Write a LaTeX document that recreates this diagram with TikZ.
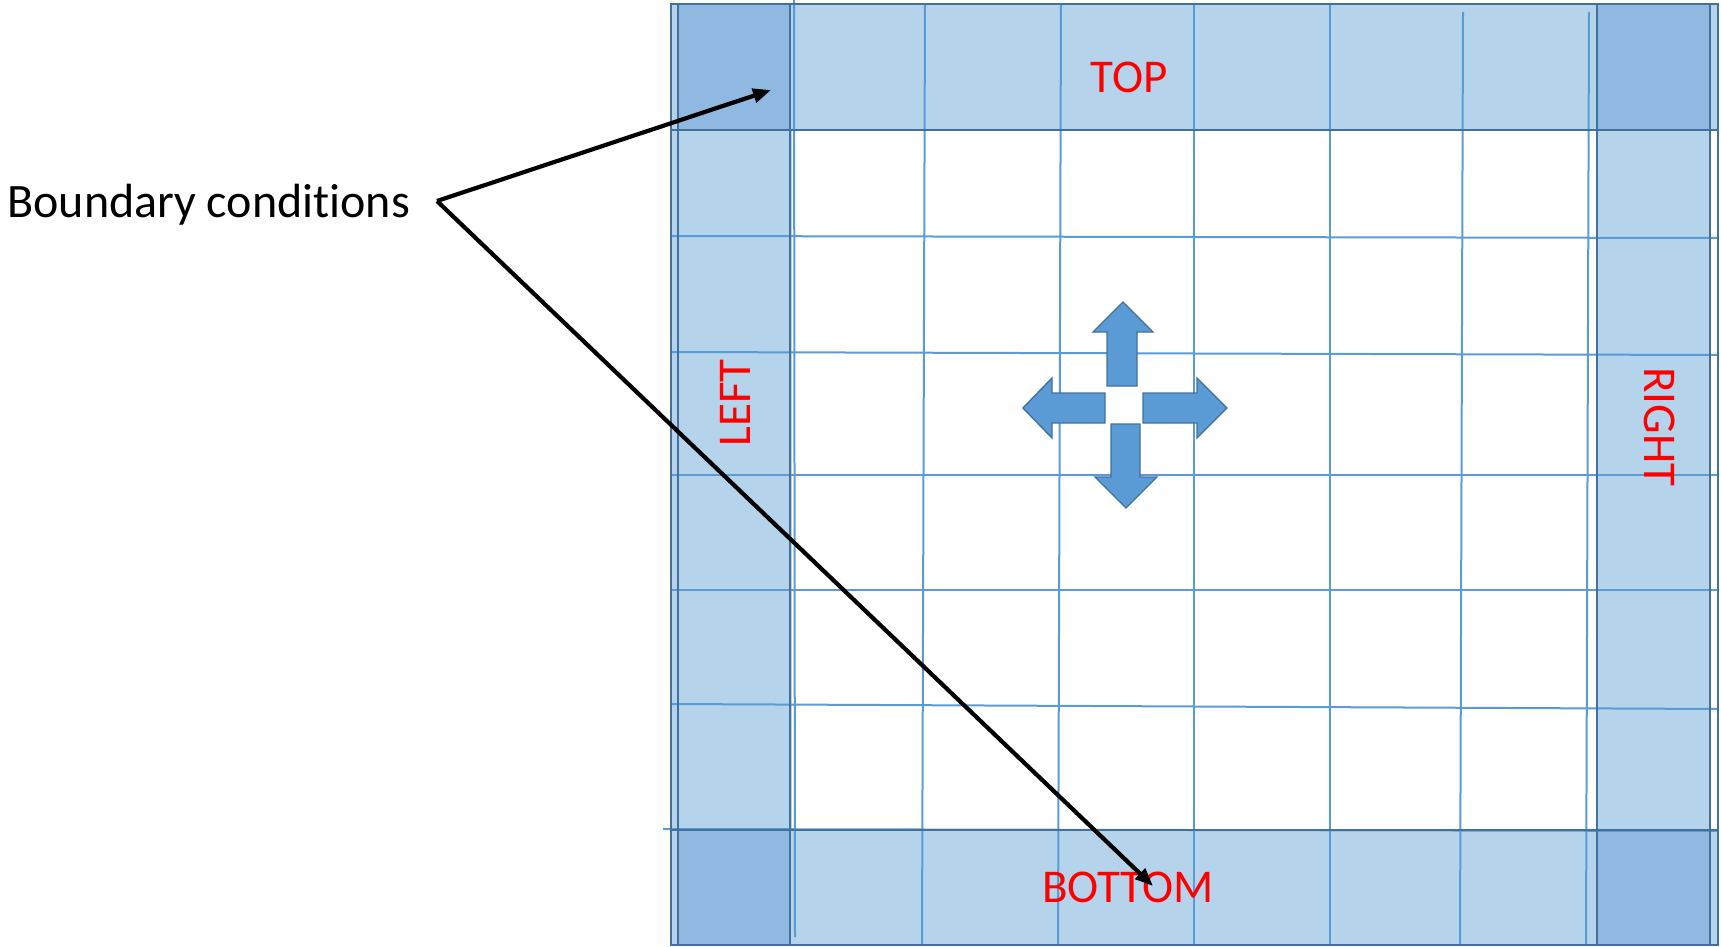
\documentclass[tikz,border=0pt]{standalone}
\usepackage{fontspec}
\setmainfont[Ligatures=NoCommon]{Carlito}
\usetikzlibrary{arrows.meta}
\definecolor{bandfill}{RGB}{181,211,235}
\definecolor{cornerfill}{RGB}{143,185,224}
\definecolor{gridblue}{RGB}{91,155,213}
\definecolor{edgeblue}{RGB}{65,113,156}

\begin{document}
\begin{tikzpicture}[x=0.5pt,y=-0.5pt,
  band/.style={fill=bandfill},
  corner/.style={fill=cornerfill},
  gridline/.style={draw=gridblue,line width=1pt},
  edge/.style={draw=edgeblue,line width=1.4pt},
  move/.style={fill=gridblue,draw=edgeblue,line width=0.7pt,line join=miter},
  lbl/.style={text=red,font=\fontsize{23.5}{28}\selectfont,inner sep=0pt},
  pointer/.style={draw=black,line width=2.1pt,-{Triangle[length=9pt,width=7pt]}}]
\useasboundingbox (0,0) rectangle (1721,947);

% boundary bands
\fill[band] (671,4) rectangle (1718,130);
\fill[band] (671,830) rectangle (1718,945);
\fill[band] (671,130) rectangle (792,830);
\fill[band] (1597,130) rectangle (1710,830);

% corner cells
\fill[corner] (678,4) rectangle (790,130);
\fill[corner] (1597,4) rectangle (1710,130);
\fill[corner] (678,830) rectangle (790,945);
\fill[corner] (1597,830) rectangle (1710,945);

% grid lines
\draw[gridline] (794,0) -- (795,937);
\draw[gridline] (925,4) -- (922,945);
\draw[gridline] (1061,4) -- (1058,945);
\draw[gridline] (1194,4) -- (1194,945);
\draw[gridline] (1330,4) -- (1330,945);
\draw[gridline] (1463,12) -- (1460,945);
\draw[gridline] (1589,12) -- (1586,945);
\draw[gridline] (671,236) -- (1718,238);
\draw[gridline] (671,352) -- (1718,355);
\draw[gridline] (671,475) -- (1718,475);
\draw[gridline] (671,590) -- (1718,590);
\draw[gridline] (671,704) -- (1718,709);
\draw[gridline] (663,829) -- (1718,831);

% band outlines
\draw[edge] (671,4) rectangle (1718,945);
\draw[edge] (671,130) -- (1718,130);
\draw[edge] (671,830) -- (1718,830);
\draw[edge] (678,4) -- (678,945);
\draw[edge] (790,4) -- (790,945);
\draw[edge] (1597,4) -- (1597,945);
\draw[edge] (1710,4) -- (1710,945);

% four-way arrows
\filldraw[move] (1123,302) -- (1153,332) -- (1137,332) -- (1137,386) -- (1107,386) -- (1107,332) -- (1093,332) -- cycle;
\filldraw[move] (1023,408) -- (1052,378) -- (1052,393) -- (1105,393) -- (1105,423) -- (1052,423) -- (1052,438) -- cycle;
\filldraw[move] (1227,408) -- (1197,378) -- (1197,393) -- (1143,393) -- (1143,423) -- (1197,423) -- (1197,438) -- cycle;
\filldraw[move] (1126,508) -- (1157,477) -- (1140,477) -- (1140,424) -- (1111,424) -- (1111,477) -- (1095,477) -- cycle;

% labels
\node[lbl] (top) at (1129,77) {TOP};
\node[lbl] (bottom) at (1128,887) {BOTTOM};
\node[lbl,rotate=90] (left) at (735,403) {LEFT};
\node[lbl,rotate=-90] (right) at (1660,427) {RIGHT};
\node[anchor=base west,inner sep=0pt,font=\fontsize{24}{29}\selectfont] (bc) at (7,218) {Boundary conditions};

% pointers
\coordinate (src) at (437,201);
\coordinate (tgtTop) at (771,90);
\coordinate (tgtBottom) at (1153,886);
\draw[pointer] (src) -- (tgtTop);
\draw[pointer] (src) -- (tgtBottom);
\end{tikzpicture}
\end{document}
